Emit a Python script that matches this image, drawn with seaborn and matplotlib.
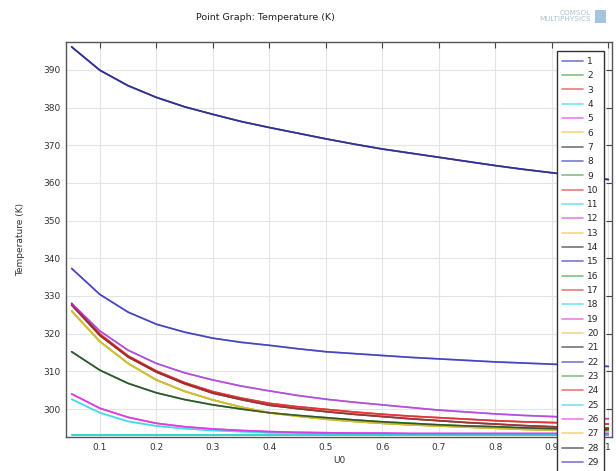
import pandas as pd
import matplotlib
matplotlib.use("Agg")
import matplotlib.pyplot as plt
from matplotlib.patches import Rectangle
import seaborn as sns

# U0 sample points
u0 = [0.05, 0.10, 0.15, 0.20, 0.25, 0.30, 0.35, 0.40, 0.45, 0.50,
      0.55, 0.60, 0.65, 0.70, 0.75, 0.80, 0.85, 0.90, 0.95, 1.00]

# temperature curves (K)
t_top = [396.1, 389.9, 385.8, 382.7, 380.2, 378.2, 376.3, 374.7, 373.2, 371.7,
         370.3, 369.0, 367.9, 366.8, 365.7, 364.6, 363.6, 362.7, 361.8, 360.9]
t_second = [337.3, 330.4, 325.7, 322.5, 320.4, 318.8, 317.7, 316.9, 316.0, 315.2,
            314.7, 314.2, 313.7, 313.3, 312.9, 312.5, 312.2, 311.9, 311.6, 311.3]
t_magenta = [328.0, 320.7, 315.6, 312.1, 309.6, 307.7, 306.1, 304.8, 303.6, 302.6,
             301.8, 301.1, 300.4, 299.7, 299.2, 298.7, 298.3, 298.0, 297.7, 297.4]
t_red = [328.0, 319.9, 314.1, 310.1, 307.0, 304.6, 302.9, 301.5, 300.6, 299.9,
         299.2, 298.6, 298.1, 297.7, 297.3, 296.9, 296.6, 296.4, 296.2, 296.0]
t_dark = [327.6, 319.5, 313.8, 309.8, 306.7, 304.2, 302.5, 301.0, 300.1, 299.3,
          298.6, 298.0, 297.4, 296.9, 296.4, 296.0, 295.6, 295.3, 295.1, 294.9]
t_olive = [326.0, 317.9, 312.1, 307.7, 304.7, 302.4, 300.5, 299.0, 298.1, 297.3,
           296.7, 296.2, 295.8, 295.5, 295.2, 294.9, 294.6, 294.4, 294.2, 294.1]
t_teal = [315.2, 310.3, 306.8, 304.3, 302.5, 301.1, 300.0, 299.0, 298.3, 297.7,
          297.1, 296.6, 296.2, 295.8, 295.5, 295.3, 295.0, 294.8, 294.6, 294.5]
t_pink = [304.0, 300.2, 297.8, 296.2, 295.3, 294.7, 294.3, 294.0, 293.8, 293.7,
          293.6, 293.6, 293.5, 293.5, 293.5, 293.5, 293.5, 293.5, 293.5, 293.5]
t_lightblue = [302.6, 299.0, 296.7, 295.5, 294.8, 294.3, 294.0, 293.7, 293.6, 293.5,
               293.4, 293.35, 293.3, 293.3, 293.25, 293.25, 293.2, 293.2, 293.2, 293.2]
t_flat = [293.15] * 20

curves = {
    "top": t_top, "second": t_second, "magenta": t_magenta, "red": t_red,
    "dark": t_dark, "olive": t_olive, "teal": t_teal, "pink": t_pink,
    "lightblue": t_lightblue, "flat": t_flat,
}

# which curve each of the 29 legend entries follows
series_curve = ["top", "teal", "red", "lightblue", "pink", "olive", "top",
                "top", "flat", "red", "lightblue", "pink", "olive", "dark",
                "second", "olive", "red", "flat", "pink", "olive", "dark",
                "magenta", "teal", "dark", "flat", "magenta", "olive", "teal",
                "second"]
series_labels = [str(i + 1) for i in range(len(series_curve))]

# COMSOL default line colour cycle
cycle = ["#2626b8", "#2ea02e", "#e02a2a", "#22d4e4", "#e030e0", "#e8c030", "#1e1e1e"]
palette = [cycle[i % len(cycle)] for i in range(len(series_curve))]

rows = []
for lab, key in zip(series_labels, series_curve):
    for x, t in zip(u0, curves[key]):
        rows.append({"U0": x, "T": t, "series": lab})
df = pd.DataFrame(rows)

sns.set_style("white")
plt.rcParams['font.family'] = 'DejaVu Sans'

fig = plt.figure(figsize=(6.16, 4.71), dpi=100)
ax = fig.add_axes([66 / 616, 34 / 471, 546 / 616, 395 / 471])

sns.lineplot(data=df, x="U0", y="T", hue="series", hue_order=series_labels,
             palette=palette, linewidth=1.2, alpha=0.62, legend=False, ax=ax,
             sort=False)

ax.set_xlim(0.04, 1.0065)
ax.set_ylim(292.57, 397.4)
ax.set_xticks([0.1, 0.2, 0.3, 0.4, 0.5, 0.6, 0.7, 0.8, 0.9, 1.0])
ax.set_xticklabels(["0.1", "0.2", "0.3", "0.4", "0.5", "0.6", "0.7", "0.8", "0.9", "1"])
ax.set_yticks(range(300, 391, 10))
ax.grid(True, color="#e4e4e4", linewidth=0.8)
ax.set_axisbelow(True)
ax.tick_params(direction="in", length=4, width=0.8, top=True, right=True,
               labelsize=6.5, colors="#444444", labelcolor="#333333", pad=4)
for sp in ax.spines.values():
    sp.set_color("#555555")
    sp.set_linewidth(1.0)

ax.set_xlabel("U0", fontsize=6.5, color="#333333", labelpad=3)
ax.set_ylabel("Temperature (K)", fontsize=6.5, color="#333333", labelpad=13)

fig.text(196 / 616, 1 - 18 / 471, "Point Graph: Temperature (K)", fontsize=6.8,
         color="#222222", ha="left", va="center")
fig.text(591 / 616, 1 - 16 / 471, "COMSOL\nMULTIPHYSICS", fontsize=5.2,
         color="#a9c2d8", ha="right", va="center", linespacing=1.0,
         multialignment="right")
fig.patches.append(Rectangle((595 / 616, 1 - 23 / 471), 11 / 616, 13 / 471,
                             transform=fig.transFigure, facecolor="#8fb6d6",
                             edgecolor="none", alpha=0.8))

leg = ax.legend(ax.lines, series_labels, loc="upper right",
                bbox_to_anchor=(0.986, 0.976), borderaxespad=0, fontsize=6.5,
                frameon=True, fancybox=False, framealpha=1, edgecolor="#333333",
                labelspacing=0.59, handlelength=2.3, handletextpad=0.5,
                borderpad=0.6)
leg.get_frame().set_linewidth(1.0)

fig.savefig("out.png", dpi=100)
